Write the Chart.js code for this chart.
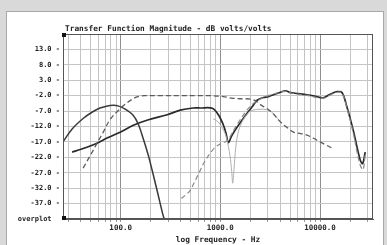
<!DOCTYPE html>
<html>
<head>
<meta charset="utf-8">
<script src="https://cdn.jsdelivr.net/npm/chart.js@4"></script>
<style>
html,body{margin:0;padding:0;background:#d9d9d9;}
#wrap{position:absolute;left:0;top:0;width:387px;height:245px;}
</style>
</head>
<body>
<div id="wrap"><canvas id="c" width="387" height="245"></canvas></div>
<script>
// ---- data ----
const wooferFreq = [26.4, 32.6, 42, 52, 62, 72, 84, 94, 110, 134, 150, 168, 190, 207, 235, 267, 282];
const wooferDb   = [-17, -12.8, -9.4, -7.3, -6.0, -5.4, -5.1, -5.3, -6.3, -8.4, -11.2, -15.8, -21.5, -26.2, -33.5, -40.9, -43];

const midFreq = [42, 50, 58, 68, 78, 92, 116, 146, 177, 250, 400, 600, 800, 1072, 1300, 1588, 2000, 2300, 2520, 3000, 3330, 4010, 4700, 5410, 6400, 7400, 8600, 10000, 11500, 13200];
const midDb   = [-25.5, -21.2, -17.4, -13.4, -9.8, -7.2, -4.3, -2.4, -2.0, -2.0, -2.0, -2.0, -2.0, -2.3, -2.8, -3.0, -3.1, -3.8, -4.9, -6.4, -7.6, -10.5, -12.4, -13.8, -14.3, -14.8, -15.8, -17.0, -18.0, -19.0];

const tweeterFreq = [405, 450, 499, 560, 630, 700, 793, 870, 955, 1080, 1180, 1300, 1420, 1600, 1800, 2100, 2600, 3400, 4500, 5400, 7400, 10700, 13000, 14800, 16600, 18600, 21500, 25000, 27000, 28400];
const tweeterDb   = [-35.3, -34.2, -32.7, -29.5, -26.2, -23.2, -20.6, -19.0, -18.0, -17.2, -16.6, -14.4, -12.2, -9.6, -7.2, -4.8, -2.9, -1.5, -0.6, -1.3, -1.9, -2.8, -1.6, -0.9, -1.2, -6.0, -14.0, -24.0, -26.0, -21.0];

const sumFreq = [32.6, 40, 48, 58, 75, 100, 134, 190, 293, 396, 535, 630, 831, 955, 1072, 1140, 1204, 1300, 1481, 1700, 1910, 2150, 2355, 2700, 3034, 3700, 4500, 5050, 6000, 7400, 9000, 10700, 12500, 14800, 16600, 18600, 21500, 25300, 26800, 28400];
const sumDb   = [-20.3, -19.4, -18.5, -17.4, -15.6, -13.8, -11.6, -9.8, -8.2, -6.7, -6.0, -6.0, -6.1, -8.2, -11.5, -14.2, -17.2, -15.0, -12.1, -9.4, -7.2, -5.0, -3.4, -2.6, -2.3, -1.3, -0.4, -1.0, -1.3, -1.7, -2.2, -2.7, -1.6, -0.7, -1.0, -5.6, -13.1, -22.9, -24.0, -20.3];

const lightFreq = [850, 950, 1050, 1150, 1250, 1300, 1330, 1370, 1430, 1520, 1650, 1800, 2000, 2300, 2700, 3100, 3500, 4000];
const lightDb   = [-9.5, -10.5, -12.5, -15.5, -21.5, -26.5, -30.4, -26.0, -18.5, -13.5, -10.5, -8.5, -7.0, -6.5, -6.4, -6.8, -8.2, -10.6];

const xTickValues = [30,40,50,60,70,80,90,100,200,300,400,500,600,700,800,900,1000,2000,3000,4000,5000,6000,7000,8000,9000,10000,20000,30000];
const xLabelValues = [100, 1000, 10000];
const xLabelTexts  = ['100.0', '1000.0', '10000.0'];
const yTickValues = [-42,-37,-32,-27,-22,-17,-12,-7,-2,3,8,13,18];
const yTickLabels = ['overplot  ','-37.0 -','-32.0 -','-27.0 -','-22.0 -','-17.0 -','-12.0 -','-7.0 -','-2.0 -','3.0 -','8.0 -','13.0 -',''];
const chartTitle = 'Transfer Function Magnitude - dB volts/volts';
const xAxisTitle = 'log Frequency - Hz';

function pts(fs, ds){ return fs.map((f,i)=>({x:f, y:ds[i]})); }

const MONO = '"DejaVu Sans Mono", "Liberation Mono", monospace';

const decoPlugin = {
  id: 'deco',
  beforeDraw(chart){
    const ctx = chart.ctx;
    ctx.save();
    ctx.fillStyle = '#d9d9d9';
    ctx.fillRect(0,0,387,245);
    ctx.fillStyle = '#ffffff';
    ctx.fillRect(7,12,376,233);
    ctx.strokeStyle = '#a8a8a8';
    ctx.lineWidth = 1;
    ctx.strokeRect(6.5,11.5,377,240);
    ctx.restore();
  },
  afterDraw(chart){
    const ctx = chart.ctx, a = chart.chartArea;
    ctx.save();
    ctx.strokeStyle = '#555';
    ctx.lineWidth = 1;
    ctx.strokeRect(Math.round(a.left)+0.5, Math.round(a.top)+0.5, Math.round(a.right-a.left)-1, Math.round(a.bottom-a.top)-1);
    ctx.fillStyle = '#111';
    ctx.fillRect(Math.round(a.left)-1, Math.round(a.top)-1, 4, 4);
    ctx.fillRect(Math.round(a.left)-1, Math.round(a.bottom)-3, 4, 4);
    ctx.font = 'bold 7.8px ' + MONO;
    ctx.textBaseline = 'alphabetic';
    ctx.textAlign = 'left';
    ctx.fillStyle = '#222';
    ctx.fillText(chartTitle, a.left + 2, a.top - 3);
    ctx.restore();
  }
};

new Chart(document.getElementById('c'), {
  type: 'line',
  data: {
    datasets: [
      {label:'woofer', data: pts(wooferFreq, wooferDb), borderColor:'#3a3a3a', borderWidth:1.5, pointRadius:0, tension:0.35, fill:false},
      {label:'mid', data: pts(midFreq, midDb), borderColor:'#5a5a5a', borderWidth:1.3, borderDash:[5,3], pointRadius:0, tension:0.35, fill:false},
      {label:'tweeter', data: pts(tweeterFreq, tweeterDb), borderColor:'#8a8a8a', borderWidth:1.2, borderDash:[5,3], pointRadius:0, tension:0.35, fill:false},
      {label:'light', data: pts(lightFreq, lightDb), borderColor:'#b0b0b0', borderWidth:1, pointRadius:0, tension:0.3, fill:false},
      {label:'sum', data: pts(sumFreq, sumDb), borderColor:'#2a2a2a', borderWidth:1.7, pointRadius:0, tension:0.35, fill:false}
    ]
  },
  options: {
    responsive:false,
    animation:false,
    devicePixelRatio:1,
    layout:{padding:{left:0, top:34, right:14, bottom:0}},
    plugins:{legend:{display:false}, title:{display:false}, tooltip:{enabled:false}},
    scales:{
      x:{
        type:'logarithmic',
        min:26.4, max:34000, bounds:'data',
        afterBuildTicks(s){ s.ticks = xTickValues.map(v=>({value:v})); },
        afterFit(s){ s.height = 26; },
        border:{display:true, color:'#555', width:1},
        grid:{
          color:(c)=> xLabelValues.includes(c.tick && c.tick.value) ? '#8f8f8f' : '#c4c4c4',
          tickColor:'#999', tickLength:3, drawTicks:true, lineWidth:1
        },
        ticks:{
          autoSkip:false, maxRotation:0, padding:2, color:'#222',
          font:{family:MONO, size:7.5, weight:'bold'},
          callback(v){ const i = xLabelValues.indexOf(v); return i>=0 ? xLabelTexts[i] : ''; }
        },
        title:{display:true, text:xAxisTitle, color:'#222', padding:{top:0,bottom:0}, font:{family:MONO, size:7.8, weight:'bold'}}
      },
      y:{
        type:'linear', min:-42, max:18,
        afterBuildTicks(s){ s.ticks = yTickValues.map(v=>({value:v})); },
        afterFit(s){ s.width = 63; },
        border:{display:true, color:'#555', width:1},
        grid:{color:'#c4c4c4', drawTicks:false, lineWidth:1},
        ticks:{
          autoSkip:false, padding:3, color:'#222',
          font:{family:MONO, size:7, weight:'bold'},
          callback(v){ const i = yTickValues.indexOf(v); return i>=0 ? yTickLabels[i] : ''; }
        }
      }
    }
  },
  plugins:[decoPlugin]
});
</script>
</body>
</html>
